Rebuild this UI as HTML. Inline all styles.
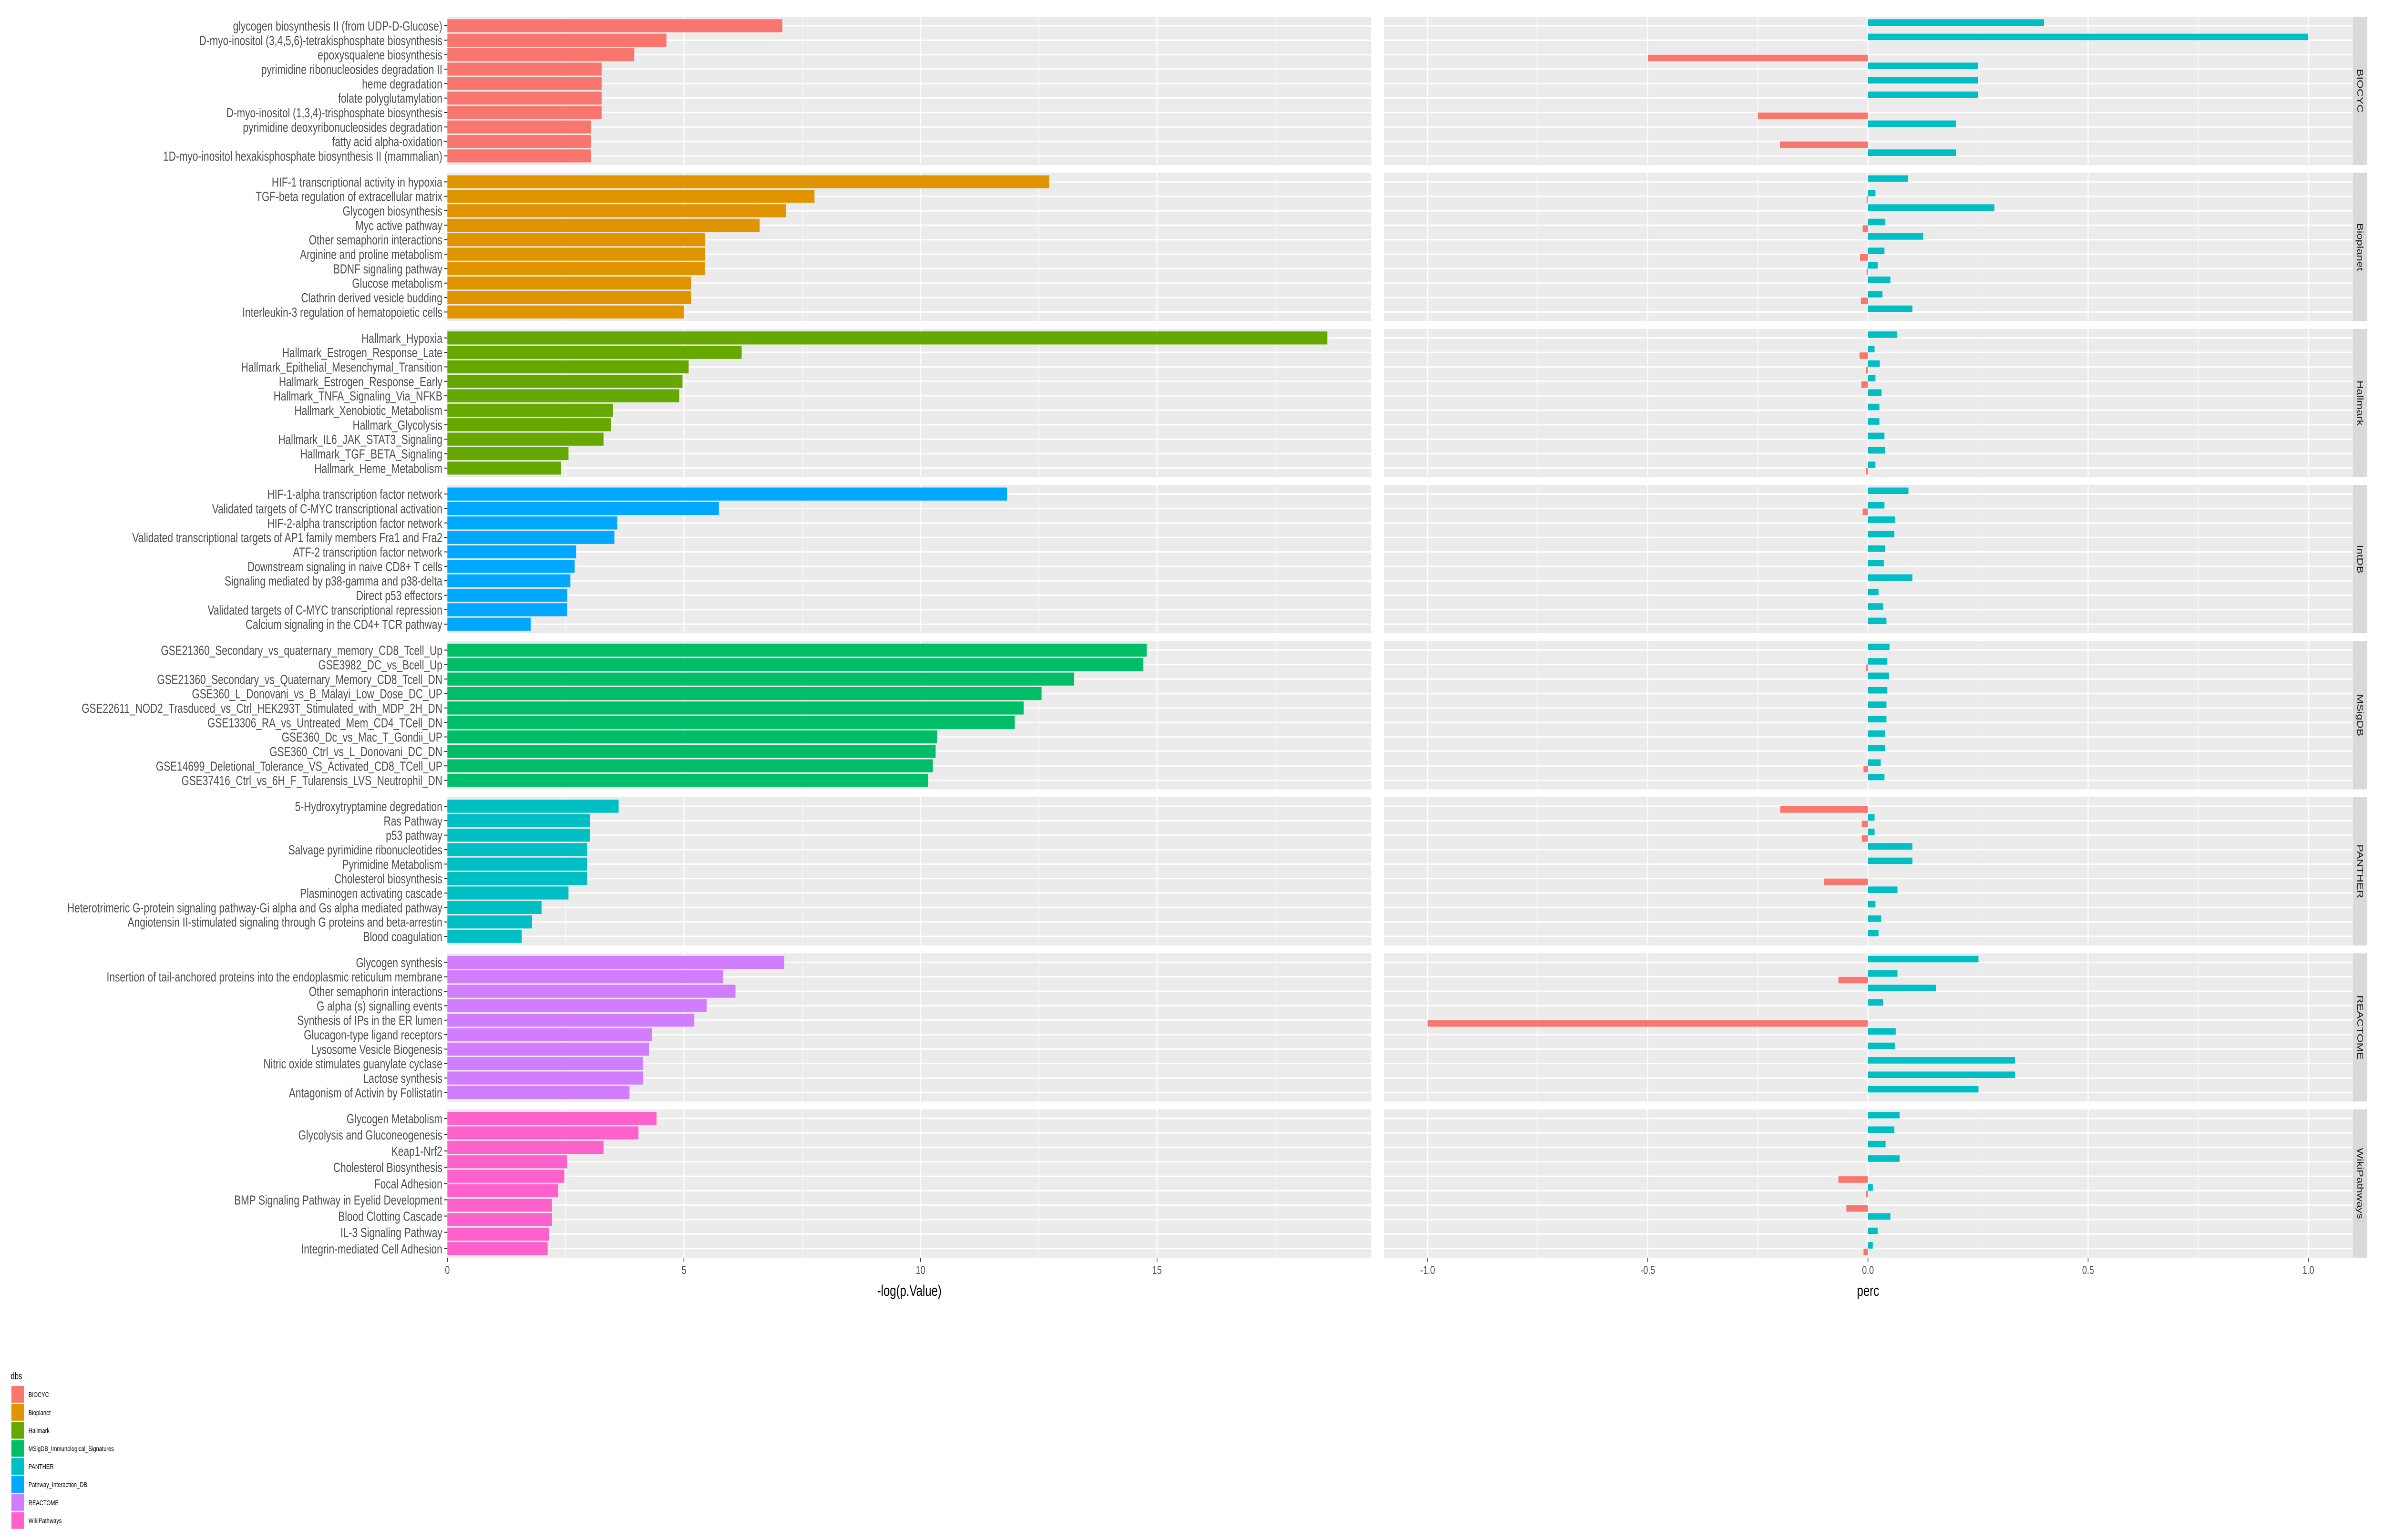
<!DOCTYPE html>
<html><head><meta charset="utf-8">
<style>
html,body{margin:0;padding:0;background:#fff;width:100%;height:100%;overflow:hidden;}
svg{display:block;font-family:"Liberation Sans",sans-serif;width:100vw;height:100vh;}
</style></head>
<body>
<svg id="chart" viewBox="0 0 6693 3230" preserveAspectRatio="none" xmlns="http://www.w3.org/2000/svg"></svg>
<script>
// ---- data ----
const facetNames = ["BIOCYC","Bioplanet","Hallmark","IntDB","MSigDB","PANTHER","REACTOME","WikiPathways"];

const biocycLabels = ["glycogen biosynthesis II (from UDP-D-Glucose)","D-myo-inositol (3,4,5,6)-tetrakisphosphate biosynthesis","epoxysqualene biosynthesis","pyrimidine ribonucleosides degradation II","heme degradation","folate polyglutamylation","D-myo-inositol (1,3,4)-trisphosphate biosynthesis","pyrimidine deoxyribonucleosides degradation","fatty acid alpha-oxidation","1D-myo-inositol hexakisphosphate biosynthesis II (mammalian)"];
const biocycLogP = [7.08,4.63,3.95,3.26,3.26,3.26,3.26,3.04,3.04,3.04];
const biocycPos = [0.40,1.0,0,0.25,0.25,0.25,0,0.2,0,0.2];
const biocycNeg = [0,0,-0.5,0,0,0,-0.25,0,-0.2,0];

const bioplanetLabels = ["HIF-1 transcriptional activity in hypoxia","TGF-beta regulation of extracellular matrix","Glycogen biosynthesis","Myc active pathway","Other semaphorin interactions","Arginine and proline metabolism","BDNF signaling pathway","Glucose metabolism","Clathrin derived vesicle budding","Interleukin-3 regulation of hematopoietic cells"];
const bioplanetLogP = [12.72,7.76,7.16,6.6,5.45,5.45,5.44,5.15,5.15,5.0];
const bioplanetPos = [0.091,0.017,0.287,0.039,0.125,0.0375,0.022,0.051,0.033,0.101];
const bioplanetNeg = [0,-0.003,0,-0.012,0,-0.018,-0.003,0,-0.016,0];

const hallmarkLabels = ["Hallmark_Hypoxia","Hallmark_Estrogen_Response_Late","Hallmark_Epithelial_Mesenchymal_Transition","Hallmark_Estrogen_Response_Early","Hallmark_TNFA_Signaling_Via_NFKB","Hallmark_Xenobiotic_Metabolism","Hallmark_Glycolysis","Hallmark_IL6_JAK_STAT3_Signaling","Hallmark_TGF_BETA_Signaling","Hallmark_Heme_Metabolism"];
const hallmarkLogP = [18.6,6.22,5.1,4.97,4.9,3.5,3.46,3.3,2.56,2.4];
const hallmarkPos = [0.066,0.015,0.027,0.017,0.031,0.026,0.026,0.0375,0.039,0.017];
const hallmarkNeg = [0,-0.019,-0.004,-0.015,0,0,0,0,0,-0.004];

const intdbLabels = ["HIF-1-alpha transcription factor network","Validated targets of C-MYC transcriptional activation","HIF-2-alpha transcription factor network","Validated transcriptional targets of AP1 family members Fra1 and Fra2","ATF-2 transcription factor network","Downstream signaling in naive CD8+ T cells","Signaling mediated by p38-gamma and p38-delta","Direct p53 effectors","Validated targets of C-MYC transcriptional repression","Calcium signaling in the CD4+ TCR pathway"];
const intdbLogP = [11.83,5.74,3.59,3.53,2.72,2.69,2.6,2.53,2.53,1.76];
const intdbPos = [0.092,0.0375,0.061,0.060,0.039,0.036,0.101,0.024,0.034,0.042];
const intdbNeg = [0,-0.012,0,0,0,0,0,0,0,0];

const msigdbLabels = ["GSE21360_Secondary_vs_quaternary_memory_CD8_Tcell_Up","GSE3982_DC_vs_Bcell_Up","GSE21360_Secondary_vs_Quaternary_Memory_CD8_Tcell_DN","GSE360_L_Donovani_vs_B_Malayi_Low_Dose_DC_UP","GSE22611_NOD2_Trasduced_vs_Ctrl_HEK293T_Stimulated_with_MDP_2H_DN","GSE13306_RA_vs_Untreated_Mem_CD4_TCell_DN","GSE360_Dc_vs_Mac_T_Gondii_UP","GSE360_Ctrl_vs_L_Donovani_DC_DN","GSE14699_Deletional_Tolerance_VS_Activated_CD8_TCell_UP","GSE37416_Ctrl_vs_6H_F_Tularensis_LVS_Neutrophil_DN"];
const msigdbLogP = [14.78,14.71,13.24,12.56,12.18,11.99,10.35,10.32,10.26,10.16];
const msigdbPos = [0.049,0.044,0.048,0.044,0.042,0.042,0.039,0.039,0.029,0.0375];
const msigdbNeg = [0,-0.004,0,0,0,0,0,0,-0.010,0];

const pantherLabels = ["5-Hydroxytryptamine degredation","Ras Pathway","p53 pathway","Salvage pyrimidine ribonucleotides","Pyrimidine Metabolism","Cholesterol biosynthesis","Plasminogen activating cascade","Heterotrimeric G-protein signaling pathway-Gi alpha and Gs alpha mediated pathway","Angiotensin II-stimulated signaling through G proteins and beta-arrestin","Blood coagulation"];
const pantherLogP = [3.62,3.01,3.01,2.95,2.95,2.95,2.56,1.99,1.79,1.57];
const pantherPos = [0,0.015,0.015,0.101,0.101,0,0.067,0.017,0.030,0.024];
const pantherNeg = [-0.199,-0.014,-0.014,0,0,-0.1,0,0,0,0];

const reactomeLabels = ["Glycogen synthesis","Insertion of tail-anchored proteins into the endoplasmic reticulum membrane","Other semaphorin interactions","G alpha (s) signalling events","Synthesis of IPs in the ER lumen","Glucagon-type ligand receptors","Lysosome Vesicle Biogenesis","Nitric oxide stimulates guanylate cyclase","Lactose synthesis","Antagonism of Activin by Follistatin"];
const reactomeLogP = [7.12,5.83,6.09,5.48,5.22,4.33,4.26,4.13,4.13,3.85];
const reactomePos = [0.251,0.067,0.155,0.034,0,0.063,0.061,0.334,0.334,0.251];
const reactomeNeg = [0,-0.067,0,0,-1.0,0,0,0,0,0];

const wikiLabels = ["Glycogen Metabolism","Glycolysis and Gluconeogenesis","Keap1-Nrf2","Cholesterol Biosynthesis","Focal Adhesion","BMP Signaling Pathway in Eyelid Development","Blood Clotting Cascade","IL-3 Signaling Pathway","Integrin-mediated Cell Adhesion"];
const wikiLogP = [4.42,4.04,3.3,2.53,2.47,2.34,2.21,2.21,2.15,2.12];
const wikiPos = [0.072,0.060,0.040,0.072,0,0.011,0,0.051,0.022,0.011];
const wikiNeg = [0,0,0,0,-0.067,-0.004,-0.049,0,0,-0.010];

const leftTicks = [0,5,10,15];
const leftTickLabels = ["0","5","10","15"];
const rightTicks = [-1,-0.5,0,0.5,1];
const rightTickLabels = ["-1.0","-0.5","0.0","0.5","1.0"];
const legendLabels = ["BIOCYC","Bioplanet","Hallmark","MSigDB_Immunological_Signatures","PANTHER","Pathway_Interaction_DB","REACTOME","WikiPathways"];

// ---- layout / style ----
const facetLabels = [biocycLabels,bioplanetLabels,hallmarkLabels,intdbLabels,msigdbLabels,pantherLabels,reactomeLabels,wikiLabels];
const facetLogP = [biocycLogP,bioplanetLogP,hallmarkLogP,intdbLogP,msigdbLogP,pantherLogP,reactomeLogP,wikiLogP];
const facetPos = [biocycPos,bioplanetPos,hallmarkPos,intdbPos,msigdbPos,pantherPos,reactomePos,wikiPos];
const facetNeg = [biocycNeg,bioplanetNeg,hallmarkNeg,intdbNeg,msigdbNeg,pantherNeg,reactomeNeg,wikiNeg];
const facetFill = ["#F8766D","#E09500","#64A800","#00A9FF","#00BE67","#00BFC4","#D27CFF","#FF61CC"];
const legendFill = ["#F8766D","#E09500","#64A800","#00BE67","#00BFC4","#00A9FF","#D27CFF","#FF61CC"];

const L = {x0:1256, x1:3850, vmin:0, vmax:19.53};
const R = {x0:3885, x1:6604, vmin:-1.0995, vmax:1.1};
const top0 = 35, panelH = 311, pitch = 327.4, pad = 19, nRows = 10;
const rowStep = (panelH - 2*pad)/(nRows-1);

function xL(v){ return L.x0 + (v - L.vmin)/(L.vmax - L.vmin)*(L.x1 - L.x0); }
function xR(v){ return R.x0 + (v - R.vmin)/(R.vmax - R.vmin)*(R.x1 - R.x0); }
function panelTop(f){ return top0 + f*pitch; }
function yRow(f,i){ return panelTop(f) + pad + i*rowStep; }

const NS = "http://www.w3.org/2000/svg";
const svg = document.getElementById("chart");
function mk(tag, attrs, parent){
  const e = document.createElementNS(NS, tag);
  for (const k in attrs) e.setAttribute(k, attrs[k]);
  (parent||svg).appendChild(e);
  return e;
}

for (let f = 0; f < facetNames.length; f++){
  const g = mk("g", {});
  
  
  const pt = panelTop(f);
  const bgL = mk("rect", {x:L.x0, y:pt, width:L.x1-L.x0, height:panelH, fill:"#ebebeb"}, g);
  
  
  const bgR = mk("rect", {x:R.x0, y:pt, width:R.x1-R.x0, height:panelH, fill:"#ebebeb"}, g);
  
  
  for (let v = 2.5; v < L.vmax; v += 2.5){
    const major = (v % 5 === 0);
    mk("line", {x1:xL(v), x2:xL(v), y1:pt, y2:pt+panelH, stroke:"#fff", "stroke-width": major?3:1.5}, g);
  }
  for (let v = -1; v <= 1.0001; v += 0.25){
    const major = Math.abs((v*2) - Math.round(v*2)) < 1e-6;
    mk("line", {x1:xR(v), x2:xR(v), y1:pt, y2:pt+panelH, stroke:"#fff", "stroke-width": major?3:1.5}, g);
  }
  for (let i = 0; i < nRows; i++){
    const y = yRow(f,i);
    mk("line", {x1:L.x0, x2:L.x1, y1:y, y2:y, stroke:"#fff", "stroke-width":3}, g);
    mk("line", {x1:R.x0, x2:R.x1, y1:y, y2:y, stroke:"#fff", "stroke-width":3}, g);
  }
  const logp = facetLogP[f];
  for (let i = 0; i < logp.length; i++){
    const y = yRow(f,i);
    const b = mk("rect", {x:xL(0), y:y-rowStep*0.45, width:xL(logp[i])-xL(0), height:rowStep*0.9, fill:facetFill[f]}, g);
    
    
  }
  const pos = facetPos[f], neg = facetNeg[f];
  for (let i = 0; i < pos.length; i++){
    const y = yRow(f,i);
    if (pos[i] !== 0){
      const b = mk("rect", {x:xR(0), y:y-rowStep*0.45, width:xR(pos[i])-xR(0), height:rowStep*0.45, fill:"#00BFC4"}, g);
      
      
    }
    if (neg[i] !== 0){
      const b = mk("rect", {x:xR(neg[i]), y:y, width:xR(0)-xR(neg[i]), height:rowStep*0.45, fill:"#F8766D"}, g);
      
      
    }
  }
  const labs = facetLabels[f];
  const firstY = yRow(f,0), lastY = yRow(f,nRows-1);
  const step = labs.length > 1 ? (lastY-firstY)/(labs.length-1) : 0;
  for (let i = 0; i < labs.length; i++){
    const y = firstY + i*step;
    mk("line", {x1:L.x0-9, x2:L.x0, y1:y, y2:y, stroke:"#333", "stroke-width":2}, g);
    const t = mk("text", {x:L.x0-14, y:y+10, "text-anchor":"end", "font-size":28, fill:"#4d4d4d"}, g);
    t.textContent = labs[i];
    
    
  }
  const sx = R.x1 + 1, sw = 41;
  const st = mk("rect", {x:sx, y:pt, width:sw, height:panelH, fill:"#d9d9d9"}, g);
  
  
  const cy = pt + panelH/2, cx = sx + sw/2;
  const stt = mk("text", {x:cx, y:cy, "text-anchor":"middle", "dominant-baseline":"central", "font-size":24, fill:"#1a1a1a", transform:`rotate(90 ${cx} ${cy})`}, g);
  stt.textContent = facetNames[f];
  
  
}

const bottom = panelTop(facetNames.length-1) + panelH;
for (let k = 0; k < leftTicks.length; k++){
  const x = xL(leftTicks[k]);
  mk("line", {x1:x, x2:x, y1:bottom, y2:bottom+9, stroke:"#333", "stroke-width":2});
  const t = mk("text", {x:x, y:bottom+34, "text-anchor":"middle", "font-size":24, fill:"#4d4d4d"});
  t.textContent = leftTickLabels[k];
  
  
}
for (let k = 0; k < rightTicks.length; k++){
  const x = xR(rightTicks[k]);
  mk("line", {x1:x, x2:x, y1:bottom, y2:bottom+9, stroke:"#333", "stroke-width":2});
  const t = mk("text", {x:x, y:bottom+34, "text-anchor":"middle", "font-size":24, fill:"#4d4d4d"});
  t.textContent = rightTickLabels[k];
  
  
}
const xt1 = mk("text", {x:(L.x0+L.x1)/2, y:bottom+80, "text-anchor":"middle", "font-size":32, fill:"#000"});
xt1.textContent = "-log(p.Value)";


const xt2 = mk("text", {x:(R.x0+R.x1)/2, y:bottom+80, "text-anchor":"middle", "font-size":32, fill:"#000"});
xt2.textContent = "perc";



const lg = mk("g", {});


const lt = mk("text", {x:30, y:2893, "font-size":20, fill:"#000"}, lg);
lt.textContent = "dbs";


for (let k = 0; k < legendLabels.length; k++){
  const y = 2907 + k*37.8;
  const r = mk("rect", {x:32, y:y, width:35, height:35, fill:legendFill[k]}, lg);
  
  
  const t = mk("text", {x:80, y:y+23, "font-size":15, fill:"#000"}, lg);
  t.textContent = legendLabels[k];
  
  
}
</script>
</body></html>
